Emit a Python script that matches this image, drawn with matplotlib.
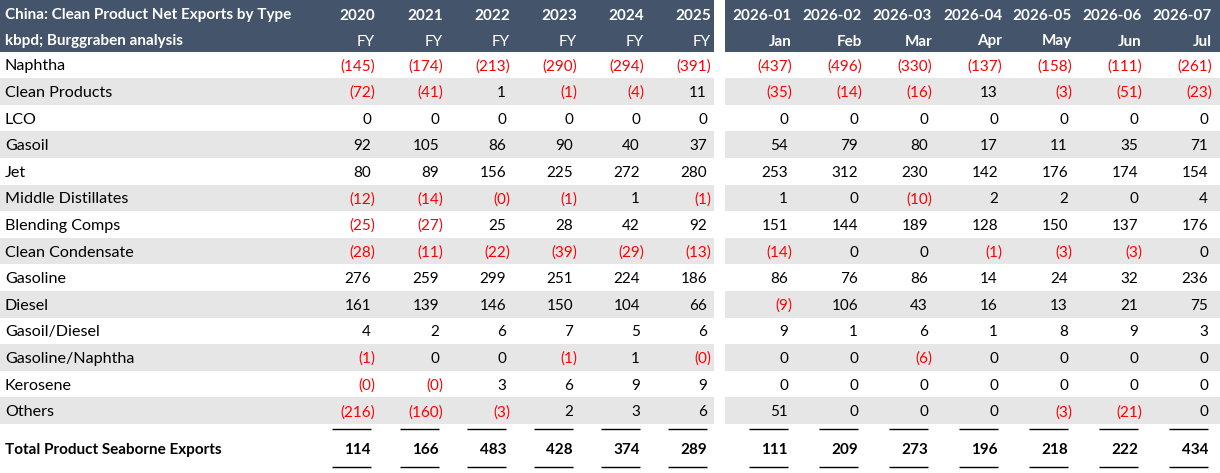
import matplotlib
matplotlib.use("Agg")
import matplotlib.pyplot as plt
from matplotlib.patches import Rectangle

plt.rcParams['font.family'] = ['Lato', 'DejaVu Sans']

title1 = "China: Clean Product Net Exports by Type"
title2 = "kbpd; Burggraben analysis"
col_top = ["2020", "2021", "2022", "2023", "2024", "2025",
           "2026-01", "2026-02", "2026-03", "2026-04", "2026-05", "2026-06", "2026-07"]
col_sub = ["FY", "FY", "FY", "FY", "FY", "FY",
           "Jan", "Feb", "Mar", "Apr", "May", "Jun", "Jul"]

rows = ["Naphtha", "Clean Products", "LCO", "Gasoil", "Jet", "Middle Distillates",
        "Blending Comps", "Clean Condensate", "Gasoline", "Diesel", "Gasoil/Diesel",
        "Gasoline/Naphtha", "Kerosene", "Others"]

naphtha = [-145, -174, -213, -290, -294, -391, -437, -496, -330, -137, -158, -111, -261]
clean_products = [-72, -41, 1, -1, -4, 11, -35, -14, -16, 13, -3, -51, -23]
lco = [0, 0, 0, 0, 0, 0, 0, 0, 0, 0, 0, 0, 0]
gasoil = [92, 105, 86, 90, 40, 37, 54, 79, 80, 17, 11, 35, 71]
jet = [80, 89, 156, 225, 272, 280, 253, 312, 230, 142, 176, 174, 154]
middle_distillates = [-12, -14, -0.3, -1, 1, -1, 1, 0, -10, 2, 2, 0, 4]
blending_comps = [-25, -27, 25, 28, 42, 92, 151, 144, 189, 128, 150, 137, 176]
clean_condensate = [-28, -11, -22, -39, -29, -13, -14, 0, 0, -1, -3, -3, 0]
gasoline = [276, 259, 299, 251, 224, 186, 86, 76, 86, 14, 24, 32, 236]
diesel = [161, 139, 146, 150, 104, 66, -9, 106, 43, 16, 13, 21, 75]
gasoil_diesel = [4, 2, 6, 7, 5, 6, 9, 1, 6, 1, 8, 9, 3]
gasoline_naphtha = [-1, 0, 0, -1, 1, -0.3, 0, 0, -6, 0, 0, 0, 0]
kerosene = [-0.3, -0.3, 3, 6, 9, 9, 0, 0, 0, 0, 0, 0, 0]
others = [-216, -160, -3, 2, 3, 6, 51, 0, 0, 0, -3, -21, 0]
total_label = "Total Product Seaborne Exports"
total = [114, 166, 483, 428, 374, 289, 111, 209, 273, 196, 218, 222, 434]

values = [naphtha, clean_products, lco, gasoil, jet, middle_distillates, blending_comps,
          clean_condensate, gasoline, diesel, gasoil_diesel, gasoline_naphtha, kerosene, others]

W, H = 1220, 473
fig = plt.figure(figsize=(W / 100, H / 100), dpi=100)
ax = fig.add_axes([0, 0, 1, 1])
ax.set_xlim(0, W)
ax.set_ylim(H, 0)
ax.axis('off')

HEADER = "#44546A"
SHADE = "#E7E6E6"
RED = "#FF0000"
FS = 11
FS_LABEL = 11.6

edges = [375, 443, 510, 577, 644, 711, 792, 862, 932, 1002, 1072, 1142, 1212]
paren_off = 4
left_panel = (0, 714)
right_panel = (725, 1220)
dy = 1.5

# header
for x0, x1 in (left_panel, right_panel):
    ax.add_patch(Rectangle((x0, 0), x1 - x0, 52, color=HEADER, lw=0))
ax.text(5, 14 + dy, title1, color="white", fontsize=FS, fontweight="bold", va="center", ha="left")
ax.text(5, 40 + dy, title2, color="white", fontsize=FS, fontweight="bold", va="center", ha="left")
for i, (t, s) in enumerate(zip(col_top, col_sub)):
    ax.text(edges[i], 14 + dy, t, color="white", fontsize=FS, fontweight="bold", va="center", ha="right")
    ax.text(edges[i], 40 + dy, s, color="white", fontsize=FS,
            fontweight=("normal" if s == "FY" else "bold"), va="center", ha="right")

row_h = 26.6
top = 51.5


def fmt(v):
    if v < 0:
        return "(%d)" % round(abs(v)), True
    return "%d" % round(v), False


for r, (name, vals) in enumerate(zip(rows, values)):
    y0 = top + r * row_h
    yc = y0 + row_h / 2 + dy
    if r % 2 == 1:
        for x0, x1 in (left_panel, right_panel):
            ax.add_patch(Rectangle((x0, y0), x1 - x0, row_h, color=SHADE, lw=0))
    ax.text(5, yc, name, fontsize=FS_LABEL, va="center", ha="left", color="black")
    for i, v in enumerate(vals):
        s, neg = fmt(v)
        x = edges[i] if neg else edges[i] - paren_off
        ax.text(x, yc, s, fontsize=FS, va="center", ha="right", color=RED if neg else "black")

# total row
ty = 448 + dy
ax.text(5, ty, total_label, fontsize=FS, fontweight="bold", va="center", ha="left")
for i, v in enumerate(total):
    s, neg = fmt(v)
    x = edges[i] if neg else edges[i] - paren_off
    ax.text(x, ty, s, fontsize=FS, fontweight="bold", va="center", ha="right",
            color=RED if neg else "black")
    for ly in (429, 467):
        ax.plot([edges[i] - 43, edges[i] - 4], [ly, ly], color="black", lw=1.0,
                solid_capstyle="butt")

fig.savefig("out.png", dpi=100)
